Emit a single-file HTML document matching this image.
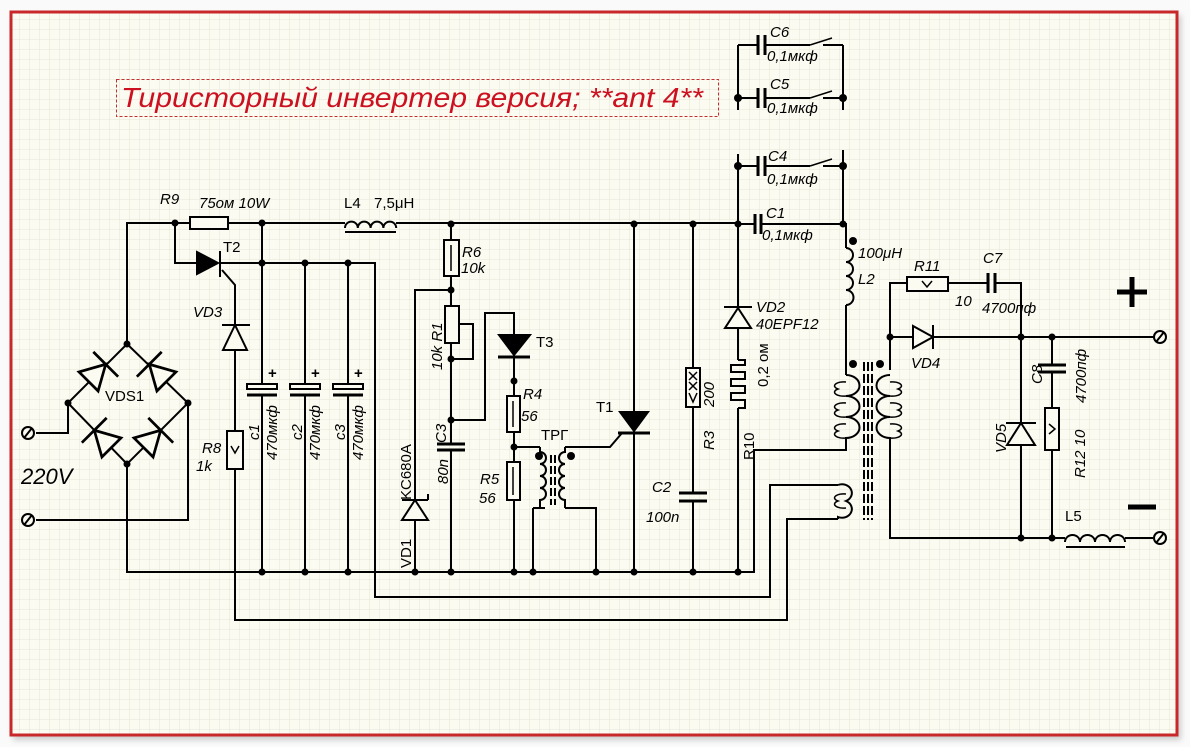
<!DOCTYPE html>
<html><head><meta charset="utf-8"><style>
html,body{margin:0;padding:0;background:#fff;}
svg{display:block;}
text{font-family:"Liberation Sans",sans-serif;fill:#000;}
.i{font-style:italic;}
</style></head><body>
<svg width="1190" height="747" viewBox="0 0 1190 747" xmlns="http://www.w3.org/2000/svg">
<defs>
<pattern id="g" width="10" height="10" patternUnits="userSpaceOnUse">
<path d="M10 0V10H0" fill="none" stroke="#e6e6d6" stroke-width="1"/>
</pattern>
<filter id="sh"><feGaussianBlur stdDeviation="3"/></filter>
</defs>
<rect x="0" y="0" width="1190" height="747" fill="#fafafa"/>
<rect x="13" y="15" width="1168" height="725" fill="#ccc" filter="url(#sh)"/>
<rect x="11" y="12" width="1166" height="723" fill="#fbfbf1"/>
<rect x="11" y="12" width="1166" height="723" fill="url(#g)"/>
<rect x="11" y="12" width="1166" height="723" fill="none" stroke="#c8282a" stroke-width="3"/>

<rect x="116.5" y="79.5" width="602" height="37" fill="none" stroke="#c03030" stroke-width="1" stroke-dasharray="3,2"/>
<text x="121" y="107" class="i" font-size="28" style="fill:#cc1020" textLength="582" lengthAdjust="spacingAndGlyphs">Тиристорный инвертер версия; **ant 4**</text>

<g stroke="#000" stroke-width="2" fill="none">
<path d="M127 344V223H190M228 223H345M396 223H738M738 224H755M761 224H843"/>
<rect x="190" y="217" width="38" height="12" fill="#fbfbf1"/>
<path d="M345 228a6.4 6.4 0 0 1 12.8 0a6.4 6.4 0 0 1 12.8 0a6.4 6.4 0 0 1 12.8 0a6.4 6.4 0 0 1 12.8 0"/>
<path d="M345 232H396"/>
<path d="M127 344L188 403L127 464L68 403Z"/>
<path d="M68 403V433H36M188 403V520H36M127 464V572H755"/>
<path d="M175 223V263H197M220 263H375V597H770V485H838M222 270L235 285V325M235 350V431M235 469V620H787V519H838"/>
<path d="M262 223V386M262 395V572M305 263V386M305 395V572M348 263V386M348 395V572"/>
<path d="M451 224V240M451 276V306M451 343V444M451 450V572M451 290H415V500M415 520V572M459 324H473V359H451M451 420H485V313H514V335M514 357V396M514 432V462M514 500V572"/>
<path d="M514 447H540M533 508V572M533 508H545M565 508H596V572M565 447H610L622 433"/>
<path d="M634 224V572M693 224V368M693 407V493M693 501V572M738 224V307M738 328V360M738 408V572"/>
<path d="M738 45V110M843 45V110M738 45H758M765 45H810M823 45H843M738 98H758M765 98H810M823 98H843"/>
<path d="M738 154V224M843 150V224M738 166H758M765 166H810M823 166H843"/>
<path d="M843 224H846V248M846 305V375M846 437V450H754V572"/>
<path d="M890 370V283H907M948 283H988M995 283H1021V423M1021 445V538M890 337H913M933 337H1160M890 440V538H1065M1125 538H1153M1052 337V365M1052 372V408M1052 450V538"/>
</g>

<g stroke="#000" stroke-width="2" fill="#fbfbf1">
<rect x="444" y="240" width="15" height="36"/>
<rect x="445" y="306" width="14" height="37"/>
<rect x="507" y="396" width="13" height="36"/>
<rect x="507" y="462" width="13" height="38"/>
<rect x="686" y="368" width="14" height="39"/>
<rect x="227" y="431" width="16" height="38"/>
<rect x="907" y="277" width="41" height="14"/>
<rect x="1045" y="408" width="14" height="42"/>
</g>
<g stroke="#000" stroke-width="1.5" fill="none">
<path d="M451 245V271M513 401V427M513 467V495"/>
<path d="M231 446L235 453L239 446M922 281L927 287L932 281M1049 424L1055 429L1049 434"/>
<path d="M689 372L697 380M697 372L689 380M689 382L697 390M697 382L689 390M689 393L693 402L697 393"/>
</g>
<path d="M738 360H745V365H731V372H745V379H731V386H745V393H731V400H745V408H738" stroke="#000" stroke-width="2" fill="none"/>

<g stroke="#000" stroke-width="2" fill="#fbfbf1">
<rect x="247" y="384" width="30" height="5"/><rect x="290" y="384" width="30" height="5"/><rect x="333" y="384" width="30" height="5"/>
</g>
<g stroke="#000" stroke-width="3">
<path d="M247 395H277M290 395H320M333 395H363"/>
<path d="M437 444H465M437 450H465M679 493H707M679 501H707M1038 365H1066M1038 372H1066"/>
<path d="M755 214V234M761 214V234M758 35V55M765 35V55M758 88V108M765 88V108M758 156V176M765 156V176M988 273V293M995 273V293"/>
</g>
<g stroke="#000" stroke-width="1.5" fill="none">
<path d="M810 45L832 38M810 98L832 91M810 166L832 159"/>
</g>
<g font-size="15" font-weight="bold"><text x="268" y="378">+</text><text x="311" y="378">+</text><text x="354" y="378">+</text></g>

<g stroke="#000" stroke-width="2" fill="#fbfbf1">
<g transform="translate(100,370) rotate(-45) scale(1.35)"><path d="M-12 -10L-12 10L6 0Z"/><path d="M6 -13V13"/></g>
<g transform="translate(155,370) rotate(-135) scale(1.35)"><path d="M-12 -10L-12 10L6 0Z"/><path d="M6 -13V13"/></g>
<g transform="translate(100,436) rotate(-135) scale(1.35)"><path d="M-12 -10L-12 10L6 0Z"/><path d="M6 -13V13"/></g>
<g transform="translate(155,436) rotate(-45) scale(1.35)"><path d="M-12 -10L-12 10L6 0Z"/><path d="M6 -13V13"/></g>
<path d="M235 325L223 350H247Z"/><path d="M222 325H250"/>
<path d="M415 500L402 520H428Z"/><path d="M402 500H428M428 500V494"/>
<path d="M738 308L725 328H751Z"/><path d="M724 307H752"/>
<path d="M913 326V348L933 337Z"/><path d="M933 325V349"/>
<path d="M1021 423L1007 445H1035Z"/><path d="M1006 423H1036"/>
</g>
<g stroke="#000" stroke-width="2" fill="#000">
<path d="M197 252V274L218 263Z"/><path d="M220 251V277"/>
<path d="M499 335H530L514 355Z"/><path d="M498 357H530" stroke-width="3"/>
<path d="M620 412H648L634 431Z"/><path d="M618 433H650" stroke-width="3"/>
</g>

<g stroke="#000" stroke-width="2" fill="none">
<path d="M540 447V452a6 6 0 0 1 0 12a6 6 0 0 1 0 12a6 6 0 0 1 0 12a6 6 0 0 1 0 12V508"/>
<path d="M565 447V452a6 6 0 0 0 0 12a6 6 0 0 0 0 12a6 6 0 0 0 0 12a6 6 0 0 0 0 12V508"/>
<path d="M551 455V505M555 455V505" stroke-dasharray="8,3"/>
<path d="M846 248a6 6 0 0 1 0 14a6 6 0 0 1 0 14a6 6 0 0 1 0 14a6 6 0 0 1 0 15"/>
<path d="M846 375a9 7 0 0 1 0 21a9 7 0 0 1 0 21a9 7 0 0 1 0 21"/>
<path d="M846 382a9 4 0 0 0 -8 7a9 4 0 0 0 8 7M846 403a9 4 0 0 0 -8 7a9 4 0 0 0 8 7M846 424a9 4 0 0 0 -8 7a9 4 0 0 0 8 7" stroke-width="1.5"/>
<path d="M890 375a9 7 0 0 0 0 21a9 7 0 0 0 0 21a9 7 0 0 0 0 21V440"/>
<path d="M890 382a9 4 0 0 1 8 7a9 4 0 0 1 -8 7M890 403a9 4 0 0 1 8 7a9 4 0 0 1 -8 7M890 424a9 4 0 0 1 8 7a9 4 0 0 1 -8 7" stroke-width="1.5"/>
<path d="M838 485a9 8 0 0 1 8 16a9 8 0 0 1 -8 16V519" />
<path d="M846 494a9 4 0 0 0 -8 7a9 4 0 0 0 8 7" stroke-width="1.5"/>
<path d="M864 362V520M868 362V520M872 362V520" stroke-dasharray="9,3"/>
<path d="M1065 542a7.5 7 0 0 1 15 0a7.5 7 0 0 1 15 0a7.5 7 0 0 1 15 0a7.5 7 0 0 1 15 0"/>
<path d="M1066 547H1125"/>
</g>

<g stroke="#000" stroke-width="2" fill="#fbfbf1">
<circle cx="28" cy="433" r="6"/><circle cx="28" cy="520" r="6"/>
<circle cx="1160" cy="337" r="6"/><circle cx="1160" cy="538" r="6"/>
</g>
<g stroke="#000" stroke-width="2"><path d="M24 438L32 428M24 525L32 515M1156 342L1164 332M1156 543L1164 533"/></g>

<g fill="#000">
<circle cx="175" cy="223" r="3.5"/><circle cx="262" cy="223" r="3.5"/><circle cx="262" cy="263" r="3.5"/><circle cx="305" cy="263" r="3.5"/><circle cx="348" cy="263" r="3.5"/>
<circle cx="127" cy="344" r="3.5"/><circle cx="68" cy="403" r="3.5"/><circle cx="188" cy="403" r="3.5"/><circle cx="127" cy="464" r="3.5"/>
<circle cx="262" cy="572" r="3.5"/><circle cx="305" cy="572" r="3.5"/><circle cx="348" cy="572" r="3.5"/><circle cx="415" cy="572" r="3.5"/><circle cx="451" cy="572" r="3.5"/><circle cx="514" cy="572" r="3.5"/><circle cx="533" cy="572" r="3.5"/><circle cx="596" cy="572" r="3.5"/><circle cx="634" cy="572" r="3.5"/><circle cx="693" cy="572" r="3.5"/><circle cx="738" cy="572" r="3.5"/>
<circle cx="451" cy="224" r="3.5"/><circle cx="634" cy="224" r="3.5"/><circle cx="693" cy="224" r="3.5"/><circle cx="738" cy="224" r="3.5"/><circle cx="843" cy="224" r="3.5"/>
<circle cx="451" cy="290" r="3.5"/><circle cx="451" cy="359" r="3.5"/><circle cx="451" cy="420" r="3.5"/><circle cx="514" cy="381" r="3.5"/><circle cx="514" cy="447" r="3.5"/>
<circle cx="539" cy="456" r="4"/><circle cx="571" cy="456" r="4"/>
<circle cx="738" cy="98" r="4"/><circle cx="843" cy="98" r="4"/><circle cx="738" cy="166" r="4"/><circle cx="843" cy="166" r="4"/>
<circle cx="853" cy="241" r="4"/><circle cx="853" cy="364" r="4"/><circle cx="880" cy="364" r="4"/>
<circle cx="890" cy="337" r="3.5"/><circle cx="1021" cy="337" r="3.5"/><circle cx="1052" cy="337" r="3.5"/><circle cx="1021" cy="538" r="3.5"/><circle cx="1052" cy="538" r="3.5"/>
</g>

<g font-size="15" class="i">
<text x="160" y="204">R9</text><text x="199" y="208">75ом 10W</text>
<text x="193" y="317">VD3</text><text x="202" y="453">R8</text><text x="196" y="471">1k</text>
<text x="21" y="484" font-size="22">220V</text>
<text x="462" y="257">R6</text><text x="461" y="273">10k</text>
<text x="523" y="399">R4</text><text x="521" y="421">56</text>
<text x="480" y="484">R5</text><text x="479" y="503">56</text>
<text x="652" y="492">C2</text><text x="646" y="522">100n</text>
<text x="955" y="306">10</text><text x="914" y="271">R11</text>
<text x="983" y="263">C7</text><text x="982" y="313">4700пф</text>
<text x="858" y="258">100μH</text><text x="858" y="284">L2</text>
<text x="756" y="312">VD2</text><text x="756" y="329">40EPF12</text>
<text x="911" y="368">VD4</text>
<text x="766" y="218">C1</text><text x="762" y="240">0,1мкф</text>
<text x="768" y="161">C4</text><text x="767" y="184">0,1мкф</text>
<text x="770" y="89">C5</text><text x="767" y="113">0,1мкф</text>
<text x="770" y="37">C6</text><text x="767" y="61">0,1мкф</text>
</g>
<g font-size="15">
<text x="344" y="208">L4</text><text x="374" y="208">7,5μH</text>
<text x="223" y="252">T2</text>
<text x="536" y="347">T3</text><text x="596" y="412">T1</text><text x="541" y="440">ТРГ</text>
<text x="105" y="401">VDS1</text>
<text x="1065" y="521">L5</text>
</g>
<g font-size="15" class="i">
<text transform="translate(259,440) rotate(-90)">c1</text>
<text transform="translate(277,460) rotate(-90)">470мкф</text>
<text transform="translate(302,440) rotate(-90)">c2</text>
<text transform="translate(320,460) rotate(-90)">470мкф</text>
<text transform="translate(345,440) rotate(-90)">c3</text>
<text transform="translate(363,460) rotate(-90)">470мкф</text>
<text transform="translate(442,370) rotate(-90)">10k R1</text>
<text transform="translate(446,443) rotate(-90)">C3</text>
<text transform="translate(448,484) rotate(-90)">80n</text>
<text transform="translate(714,407) rotate(-90)">200</text>
<text transform="translate(714,450) rotate(-90)">R3</text>
<text transform="translate(1006,453) rotate(-90)">VD5</text>
<text transform="translate(1042,384) rotate(-90)">C8</text>
<text transform="translate(1086,403) rotate(-90)">4700пф</text>
<text transform="translate(1085,478) rotate(-90)">R12 10</text>
</g>
<g font-size="15">
<text transform="translate(411,500) rotate(-90)">KC680A</text>
<text transform="translate(411,568) rotate(-90)">VD1</text>
<text transform="translate(768,387) rotate(-90)">0,2 ом</text>
<text transform="translate(754,460) rotate(-90)">R10</text>
</g>
<g stroke="#000" stroke-width="5"><path d="M1117 292H1147M1132 277V307M1128 507H1156"/></g>
</svg>
</body></html>
